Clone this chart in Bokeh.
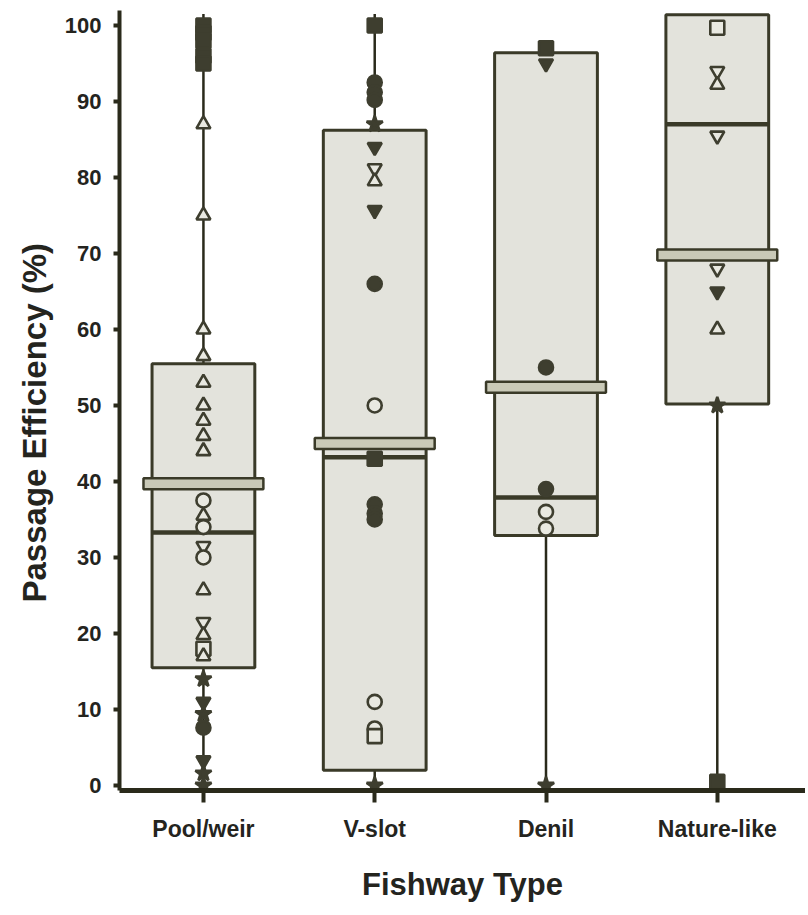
from bokeh.plotting import figure
from bokeh.models import ColumnDataSource, Range1d, FixedTicker, Title
from bokeh.embed import file_html
from bokeh.resources import INLINE

# ---------------- data ----------------
categories = ["Pool/weir", "V-slot", "Denil", "Nature-like"]
cat_pos = [1, 2, 3, 4]

q1 = [15.5, 2.0, 32.9, 50.2]
q3 = [55.5, 86.2, 96.4, 101.4]
median = [33.3, 43.2, 37.9, 87.0]
mean = [39.7, 45.0, 52.4, 69.8]
whisker_low = [0, 0, 0, 0]
whisker_high = [101.5, 101.5, 97.0, 101.5]

y_ticks = [0, 10, 20, 30, 40, 50, 60, 70, 80, 90, 100]

pool_values = [100, 99, 98, 96, 95, 87, 75, 60, 56.5, 53, 50, 48, 46, 44,
               37.5, 35.5, 34, 31.5, 30, 25.7, 21.5, 19.8, 18, 17, 14, 11,
               9.4, 7.6, 3.3, 1.6, 0]
pool_markers = ["square", "square", "square", "square", "square", "triangle",
                "triangle", "triangle", "triangle", "triangle", "triangle",
                "triangle", "triangle", "triangle", "circle", "triangle",
                "circle", "inverted_triangle", "circle", "triangle",
                "inverted_triangle", "triangle", "square", "triangle", "star",
                "inverted_triangle", "star", "circle", "inverted_triangle",
                "star", "star"]
pool_filled = [1, 1, 1, 1, 1, 0, 0, 0, 0, 0, 0, 0, 0, 0, 0, 0, 0, 0, 0, 0,
               0, 0, 0, 0, 1, 1, 1, 1, 1, 1, 1]

vslot_values = [100, 92.5, 91.2, 90.2, 87, 84, 81.2, 79.5, 75.7, 66, 50,
                43, 37, 35.8, 35, 11, 7.5, 6.5, 0]
vslot_markers = ["square", "circle", "circle", "circle", "star",
                 "inverted_triangle", "inverted_triangle", "triangle",
                 "inverted_triangle", "circle", "circle", "square", "circle",
                 "circle", "circle", "circle", "circle", "square", "star"]
vslot_filled = [1, 1, 1, 1, 1, 1, 0, 0, 1, 1, 0, 1, 1, 1, 1, 0, 0, 0, 1]

denil_values = [97, 95, 55, 39, 36, 33.8, 0]
denil_markers = ["square", "inverted_triangle", "circle", "circle", "circle",
                 "circle", "star"]
denil_filled = [1, 1, 1, 1, 0, 0, 1]

nature_values = [99.7, 94, 92.2, 85.5, 68, 65, 60, 50, 0.5]
nature_markers = ["square", "inverted_triangle", "triangle",
                  "inverted_triangle", "inverted_triangle",
                  "inverted_triangle", "triangle", "star", "square"]
nature_filled = [0, 0, 0, 0, 0, 1, 0, 1, 1]

# ---------------- styling ----------------
DARK = "#2a2a1b"
BOX_LINE = "#3a3a28"
BOX_FILL = "#e3e3dc"
MEAN_FILL = "#c9c9b7"
MARK_DARK = "#3e3e2f"
MARK_OPEN = "#e9e9e1"
FONT = "Liberation Sans"
TEXT = "#24241e"

p = figure(width=805, height=905, output_backend="svg", toolbar_location=None,
           x_range=Range1d(0.51, 4.515), y_range=Range1d(-0.66, 101.97),
           min_border_left=119, min_border_right=0, min_border_top=10,
           min_border_bottom=115)
p.outline_line_color = None
p.xgrid.visible = False
p.ygrid.visible = False
p.background_fill_color = "white"

# whiskers (behind boxes)
wsrc = ColumnDataSource(dict(x=cat_pos, lo=whisker_low, hi=whisker_high))
p.segment(x0="x", y0="lo", x1="x", y1="hi", source=wsrc, line_color=DARK,
          line_width=2.5)

# boxes
bw = 0.3
bsrc = ColumnDataSource(dict(
    left=[c - bw for c in cat_pos], right=[c + bw for c in cat_pos],
    q1=q1, q3=q3, med=median, mean=mean, x=cat_pos))
p.quad(left="left", right="right", bottom="q1", top="q3", source=bsrc,
       fill_color=BOX_FILL, line_color=BOX_LINE, line_width=3)
p.segment(x0="left", y0="med", x1="right", y1="med", source=bsrc,
          line_color=BOX_LINE, line_width=4.5)
p.rect(x="x", y="mean", width=0.7, height=11, height_units="screen",
       source=bsrc, fill_color=MEAN_FILL, line_color=BOX_LINE, line_width=2.5)

# individual points
xs, ys, ms, fills, sizes = [], [], [], [], []
for c, vals, marks, fl in zip(cat_pos,
                              [pool_values, vslot_values, denil_values, nature_values],
                              [pool_markers, vslot_markers, denil_markers, nature_markers],
                              [pool_filled, vslot_filled, denil_filled, nature_filled]):
    for v, m, f in zip(vals, marks, fl):
        xs.append(c)
        ys.append(v)
        ms.append(m)
        fills.append(MARK_DARK if f else MARK_OPEN)
        sizes.append(17 if m == "star" else 14)
psrc = ColumnDataSource(dict(x=xs, y=ys, marker=ms, fill=fills, size=sizes))
p.scatter(x="x", y="y", marker="marker", size="size", fill_color="fill",
          line_color=MARK_DARK, line_width=2.6, source=psrc)

# axes
p.xaxis.ticker = FixedTicker(ticks=cat_pos)
p.xaxis.major_label_overrides = {c: n for c, n in zip(cat_pos, categories)}
p.xaxis.axis_line_width = 5
p.xaxis.axis_line_color = DARK
p.xaxis.major_tick_out = 12
p.xaxis.major_tick_in = 0
p.xaxis.major_tick_line_width = 4
p.xaxis.major_tick_line_color = DARK
p.xaxis.minor_tick_line_color = None
p.xaxis.major_label_text_font = FONT
p.xaxis.major_label_text_font_style = "bold"
p.xaxis.major_label_text_font_size = "23px"
p.xaxis.major_label_text_color = TEXT
p.xaxis.major_label_standoff = 13
p.xaxis.axis_label = "Fishway Type"
p.xaxis.axis_label_text_font = FONT
p.xaxis.axis_label_text_font_style = "bold"
p.xaxis.axis_label_text_font_size = "31px"
p.xaxis.axis_label_text_color = TEXT
p.xaxis.axis_label_standoff = 22

p.yaxis.ticker = FixedTicker(ticks=y_ticks)
p.yaxis.axis_line_width = 4
p.yaxis.axis_line_color = DARK
p.yaxis.major_tick_out = 6
p.yaxis.major_tick_in = 0
p.yaxis.major_tick_line_width = 4
p.yaxis.major_tick_line_color = DARK
p.yaxis.minor_tick_line_color = None
p.yaxis.major_label_text_font = FONT
p.yaxis.major_label_text_font_style = "bold"
p.yaxis.major_label_text_font_size = "22px"
p.yaxis.major_label_text_color = TEXT
p.yaxis.major_label_standoff = 12

ylab = Title(text="Passage Efficiency (%)", align="left", offset=188,
             standoff=17, text_font=FONT, text_font_style="bold",
             text_font_size="33px", text_color=TEXT)
p.add_layout(ylab, "left")

open("out.html", "w").write(file_html(p, INLINE))
